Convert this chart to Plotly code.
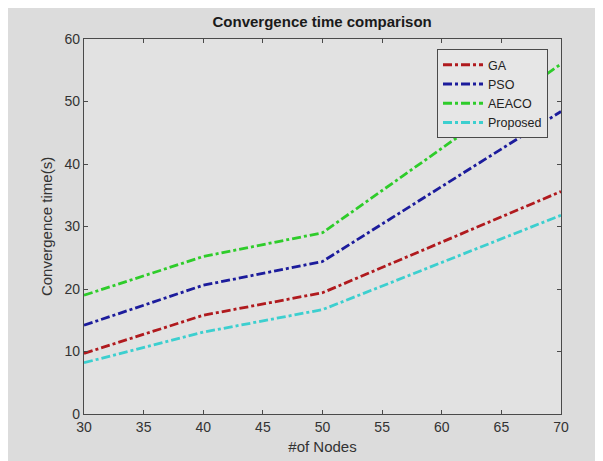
import plotly.graph_objects as go

nodes = [30, 40, 50, 70]
ga = [9.7, 15.8, 19.4, 35.6]
pso = [14.2, 20.6, 24.4, 48.4]
aeaco = [19.0, 25.2, 29.0, 56.0]
proposed = [8.2, 13.1, 16.7, 31.8]

series = [
    ("GA", ga, "#b01a1e"),
    ("PSO", pso, "#1c1c9c"),
    ("AEACO", aeaco, "#2ecc2a"),
    ("Proposed", proposed, "#3ccfcf"),
]

fig = go.Figure()
for name, vals, col in series:
    fig.add_trace(go.Scatter(
        x=nodes, y=vals, mode="lines", name=name,
        line=dict(color=col, width=2.8, dash="9px,3px,3px,3px"),
    ))

axis_common = dict(
    showgrid=False, zeroline=False, showline=True, linecolor="#4a4a4a", linewidth=1.3,
    mirror="ticks", ticks="inside", ticklen=4, tickcolor="#4a4a4a", automargin=False,
    tickfont=dict(family="Liberation Sans, Arial", size=14, color="#333333"),
)

fig.update_layout(
    width=595, height=453,
    margin=dict(l=76, r=42, t=31, b=47),
    paper_bgcolor="#dcdcdc", plot_bgcolor="#e2e2e2",
    title=dict(text="<b>Convergence time comparison</b>", x=0.528, xanchor="center",
               y=0.969, yanchor="middle", automargin=False,
               font=dict(family="Liberation Sans, Arial", size=15, color="#1a1a1a")),
    xaxis=dict(range=[30, 70], tickvals=[30, 35, 40, 45, 50, 55, 60, 65, 70],
               title=dict(text="#of Nodes", standoff=7,
                          font=dict(family="Liberation Sans, Arial", size=15, color="#333333")),
               **axis_common),
    yaxis=dict(range=[0, 60], tickvals=[0, 10, 20, 30, 40, 50, 60],
               title=dict(text="Convergence time(s)", standoff=8,
                          font=dict(family="Liberation Sans, Arial", size=15, color="#333333")),
               **axis_common),
    legend=dict(x=0.740, y=0.973, xanchor="left", yanchor="top",
                bgcolor="#e6e6e6", bordercolor="#4a4a4a", borderwidth=1,
                font=dict(family="Liberation Sans, Arial", size=12.5, color="#222222"),
                tracegroupgap=0, itemwidth=40),
    showlegend=True,
)

fig.write_html("out.html")
